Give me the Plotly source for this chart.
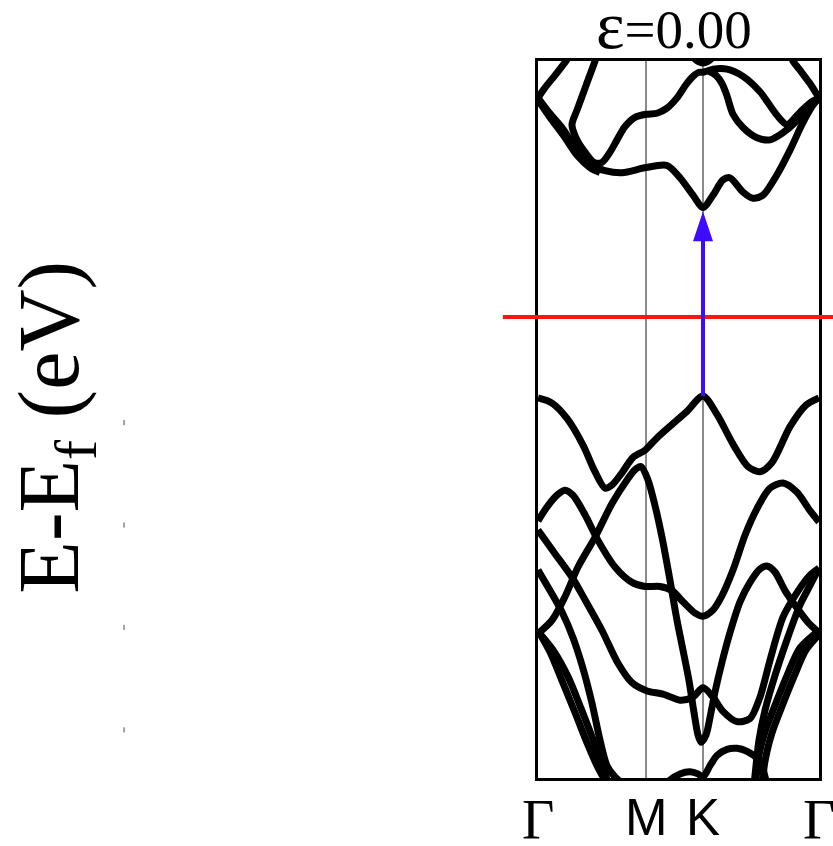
import plotly.graph_objects as go

# High-symmetry points along the path Γ–M–K–Γ (path length, arbitrary units)
k_ticks = [0.0, 1.08, 1.65, 2.81]
k_labels = ["Γ", "M", "K", "Γ"]

e_fermi = 0.0
e_range = [-4.5, 2.5]
strain = 0.00
energy_marks = [-1, -2, -3, -4]

# ---- conduction bands ----
cb1_k = [0.00, 0.10, 0.24, 0.40, 0.54, 0.67, 0.84, 1.08, 1.29, 1.42, 1.55, 1.65,
         1.75, 1.85, 1.92, 2.05, 2.15, 2.25, 2.39, 2.52, 2.65, 2.75, 2.81]
cb1_e = [2.14, 2.01, 1.85, 1.62, 1.48, 1.43, 1.41, 1.46, 1.48, 1.36, 1.19, 1.07,
         1.19, 1.34, 1.36, 1.22, 1.16, 1.19, 1.39, 1.63, 1.90, 2.07, 2.14]

cb1b_k = [0.00, 0.12, 0.25, 0.39, 0.52, 0.62]
cb1b_e = [2.12, 1.95, 1.78, 1.58, 1.46, 1.41]

cb2_k = [0.60, 0.57, 0.48, 0.39, 0.34, 0.38, 0.47, 0.56, 0.64, 0.72, 0.79, 0.87,
         0.97, 1.08, 1.19, 1.29, 1.39, 1.48, 1.55, 1.61, 1.65, 1.75, 1.89, 2.05,
         2.22, 2.39, 2.49, 2.62, 2.72, 2.81]
cb2_e = [2.59, 2.50, 2.26, 2.02, 1.88, 1.75, 1.61, 1.51, 1.51, 1.61, 1.73, 1.86,
         1.95, 1.98, 1.99, 2.04, 2.14, 2.27, 2.35, 2.39, 2.39, 2.42, 2.42, 2.35,
         2.20, 1.97, 1.88, 2.00, 2.09, 2.14]

cb3_k = [1.71, 1.78, 1.84, 1.89, 1.95, 2.05, 2.19, 2.32, 2.45, 2.57, 2.69, 2.81]
cb3_e = [2.40, 2.36, 2.28, 2.16, 1.98, 1.85, 1.75, 1.73, 1.80, 1.90, 2.04, 2.14]

cb4_k = [1.52, 1.58, 1.65, 1.72, 1.78]
cb4_e = [2.58, 2.51, 2.48, 2.51, 2.58]

cb5_k = [0.00, 0.07, 0.17, 0.28, 0.34]
cb5_e = [2.14, 2.24, 2.36, 2.50, 2.59]

cb6_k = [2.81, 2.72, 2.62, 2.55, 2.51]
cb6_e = [2.14, 2.28, 2.41, 2.50, 2.59]

# ---- valence bands ----
vb1_k = [0.00, 0.14, 0.29, 0.45, 0.57, 0.67, 0.74, 0.84, 0.95, 1.07, 1.19, 1.35,
         1.49, 1.65, 1.79, 1.95, 2.10, 2.22, 2.34, 2.52, 2.68, 2.81]
vb1_e = [-0.79, -0.84, -0.99, -1.25, -1.51, -1.67, -1.64, -1.52, -1.37, -1.30, -1.18, -1.04,
         -0.92, -0.77, -0.95, -1.24, -1.46, -1.51, -1.42, -1.07, -0.86, -0.79]

vb2_k = [0.00, 0.14, 0.27, 0.40, 0.57, 0.74, 0.89, 0.97, 1.03, 1.10, 1.17, 1.24,
         1.32, 1.39, 1.46, 1.51, 1.56, 1.60, 1.63, 1.68, 1.72, 1.77, 1.84, 1.92,
         2.02, 2.12, 2.22, 2.29, 2.37, 2.47, 2.59, 2.70, 2.81]
vb2_e = [-3.09, -2.96, -2.73, -2.44, -2.15, -1.82, -1.59, -1.49, -1.46, -1.59, -1.84, -2.15,
         -2.57, -2.96, -3.30, -3.55, -3.86, -4.08, -4.15, -4.08, -3.91, -3.66, -3.37, -3.08,
         -2.78, -2.59, -2.46, -2.43, -2.49, -2.67, -2.84, -2.98, -3.08]

vb3_k = [0.00, 0.10, 0.20, 0.27, 0.35, 0.47, 0.60, 0.77, 0.94, 1.07, 1.22, 1.34,
         1.45, 1.57, 1.65, 1.75, 1.84, 1.95, 2.07, 2.19, 2.32, 2.45, 2.59, 2.72, 2.81]
vb3_e = [-1.99, -1.84, -1.73, -1.69, -1.74, -1.93, -2.18, -2.44, -2.59, -2.63, -2.63, -2.67,
         -2.78, -2.89, -2.92, -2.86, -2.72, -2.47, -2.13, -1.87, -1.67, -1.62, -1.71, -1.89, -2.00]

vb4_k = [0.00, 0.17, 0.34, 0.47, 0.64, 0.80, 0.94, 1.09, 1.25, 1.42, 1.55, 1.65,
         1.75, 1.85, 1.99, 2.12, 2.22, 2.32, 2.45, 2.59, 2.72, 2.81]
vb4_e = [-2.08, -2.31, -2.54, -2.76, -3.06, -3.38, -3.57, -3.65, -3.68, -3.74, -3.71, -3.62,
         -3.71, -3.85, -3.95, -3.92, -3.71, -3.35, -2.93, -2.69, -2.52, -2.45]

vb5_k = [0.00, 0.12, 0.24, 0.35, 0.45, 0.54, 0.62, 0.69, 0.77, 0.87]
vb5_e = [-2.47, -2.67, -2.88, -3.13, -3.43, -3.77, -4.13, -4.38, -4.49, -4.57]

vb6_k = [0.00, 0.12, 0.24, 0.37, 0.50, 0.60, 0.68]
vb6_e = [-3.06, -3.27, -3.55, -3.86, -4.18, -4.40, -4.54]

vb7_k = [0.00, 0.15, 0.30, 0.43, 0.56, 0.64, 0.70]
vb7_e = [-3.07, -3.25, -3.51, -3.82, -4.15, -4.38, -4.54]

vb8_k = [2.81, 2.72, 2.62, 2.49, 2.37, 2.27, 2.21, 2.18, 2.16]
vb8_e = [-2.45, -2.62, -2.81, -3.15, -3.50, -3.84, -4.13, -4.38, -4.57]

vb9_k = [2.81, 2.62, 2.49, 2.35, 2.27, 2.22, 2.19, 2.18]
vb9_e = [-3.06, -3.23, -3.50, -3.84, -4.05, -4.23, -4.40, -4.57]

vb10_k = [2.81, 2.68, 2.56, 2.42, 2.34, 2.29, 2.26, 2.25]
vb10_e = [-3.10, -3.25, -3.51, -3.85, -4.06, -4.24, -4.40, -4.57]

vb11_k = [1.24, 1.32, 1.42, 1.52, 1.60, 1.65, 1.72, 1.79, 1.89, 1.99, 2.09, 2.19, 2.25, 2.29]
vb11_e = [-4.62, -4.52, -4.46, -4.44, -4.46, -4.49, -4.38, -4.28, -4.22, -4.21, -4.24, -4.31,
          -4.42, -4.57]

bands = [
    (cb1_k, cb1_e), (cb1b_k, cb1b_e), (cb2_k, cb2_e), (cb3_k, cb3_e),
    (cb4_k, cb4_e), (cb5_k, cb5_e), (cb6_k, cb6_e),
    (vb1_k, vb1_e), (vb2_k, vb2_e), (vb3_k, vb3_e), (vb4_k, vb4_e),
    (vb5_k, vb5_e), (vb6_k, vb6_e), (vb7_k, vb7_e), (vb8_k, vb8_e),
    (vb9_k, vb9_e), (vb10_k, vb10_e), (vb11_k, vb11_e),
]

SERIF = "Liberation Serif, Times New Roman, serif"
SANS = "Liberation Sans, Arial, sans-serif"
ARROW_BLUE = "#3d0cff"

fig = go.Figure()

for k, e in bands:
    fig.add_trace(go.Scatter(
        x=k, y=e, mode="lines",
        line=dict(color="black", width=7, shape="spline", smoothing=0.8),
        hoverinfo="skip", showlegend=False,
    ))

shapes = []

# vertical guides at M and K
for kv in k_ticks[1:3]:
    shapes.append(dict(type="line", xref="x", yref="paper", x0=kv, x1=kv, y0=0, y1=1,
                       line=dict(color="#8a8a8a", width=2), layer="below"))

# Fermi level
shapes.append(dict(type="line", xref="paper", yref="y", x0=-0.125, x1=1.06,
                   y0=e_fermi, y1=e_fermi, line=dict(color="#ff1414", width=4),
                   layer="above"))

# direct gap arrow at K (VBM -> CBM)
k_gap = k_ticks[2]
vbm = max(vb1_e)
cbm = min(cb1_e)
tip = cbm - 0.04
head_len = 0.29
head_half = 0.10
shapes.append(dict(type="line", xref="x", yref="y", x0=k_gap, x1=k_gap,
                   y0=vbm, y1=tip - head_len + 0.02,
                   line=dict(color=ARROW_BLUE, width=4), layer="above"))
shapes.append(dict(type="path", xref="x", yref="y",
                   path=(f"M {k_gap - head_half},{tip - head_len} L {k_gap},{tip} "
                         f"L {k_gap + head_half},{tip - head_len} Z"),
                   fillcolor=ARROW_BLUE, line=dict(width=0), layer="above"))

# faint energy marks left of the axis title area
for ev in energy_marks:
    shapes.append(dict(type="line", xref="paper", yref="y", x0=-1.473, x1=-1.473,
                       y0=ev - 0.005, y1=ev - 0.055,
                       line=dict(color="#a0a0a0", width=2)))

annotations = [
    dict(text=f'<span style="font-size:68px">ε</span>={strain:.2f}',
         xref="paper", yref="paper", x=0.485, y=1.0,
         xanchor="center", yanchor="bottom", yshift=-4, showarrow=False,
         font=dict(family=SERIF, size=55, color="black")),
    dict(text="E-E<sub>f</sub> (eV)", xref="paper", yref="paper", x=-1.719, y=0.49,
         xanchor="center", yanchor="middle", textangle=-90, showarrow=False,
         font=dict(family=SERIF, size=86, color="black")),
]

# high-symmetry point labels below the panel
for kv, lbl in zip(k_ticks, k_labels):
    is_gamma = lbl == "Γ"
    annotations.append(dict(
        text=lbl, xref="x", yref="paper", x=kv, y=0, xanchor="center", yanchor="top",
        yshift=-9, showarrow=False,
        font=dict(family=SERIF if is_gamma else SANS, size=56 if is_gamma else 51,
                  color="black"),
    ))

fig.update_layout(
    width=833, height=846,
    margin=dict(l=538, r=14, t=61, b=68),
    paper_bgcolor="white", plot_bgcolor="white",
    shapes=shapes,
    annotations=annotations,
    xaxis=dict(
        range=[k_ticks[0], k_ticks[-1]], showgrid=False, zeroline=False,
        showline=True, mirror=True, linecolor="black", linewidth=3,
        showticklabels=False, ticks="", automargin=False,
    ),
    yaxis=dict(
        range=e_range, showgrid=False, zeroline=False,
        showline=True, mirror=True, linecolor="black", linewidth=3,
        showticklabels=False, ticks="", automargin=False,
    ),
)

fig.write_html("out.html")
